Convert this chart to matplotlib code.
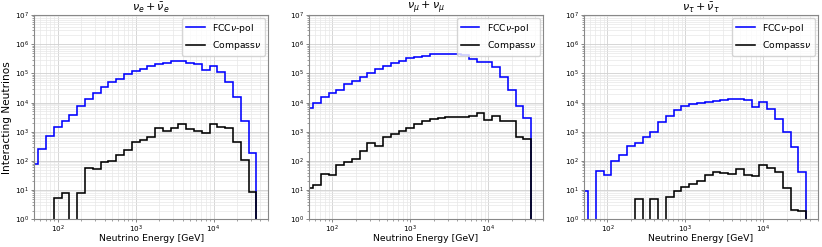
import numpy as np
import matplotlib
matplotlib.use("Agg")
import matplotlib.pyplot as plt

# energy bins, 10 per decade (GeV)
bin_edges = np.logspace(1.65, 4.55, 30)

# interacting neutrinos per bin
fcc_e = [80, 250, 720, 1500, 2300, 3900, 7800, 13000, 22000, 34000,
         50000, 66000, 92000, 125000, 145000, 175000, 210000, 235000, 265000, 265000,
         235000, 210000, 135000, 185000, 110000, 50000, 15500, 2300, 185]
compass_e = [0, 0, 0, 5.2, 8.2, 0, 8.0, 57, 55, 95,
             96, 165, 240, 440, 520, 680, 1300, 1060, 1400, 1900,
             1220, 1100, 920, 1800, 1450, 1300, 440, 105, 8.4]

fcc_mu = [6500, 10000, 15000, 22000, 28000, 43000, 56000, 77000, 105000, 137000,
          180000, 220000, 270000, 325000, 370000, 400000, 450000, 470000, 480000, 460000,
          420000, 310000, 250000, 250000, 170000, 75000, 28000, 7600, 3000]
compass_mu = [11.5, 15, 37, 32, 72, 92, 113, 222, 400, 330,
              645, 830, 1090, 1300, 1800, 2400, 2650, 2900, 3300, 3300,
              3100, 3450, 4300, 2500, 3450, 2300, 2300, 650, 580]

fcc_tau = [9, 0, 46, 34, 100, 160, 325, 400, 675, 1000,
           2200, 3500, 5500, 7500, 9000, 10000, 10500, 11000, 12200, 12900,
           13500, 12200, 7200, 10100, 5900, 2700, 960, 310, 41]
compass_tau = [0, 0, 0, 0, 0, 0, 0, 5, 0, 5,
               0, 5.8, 9.5, 13, 16, 20.5, 33, 43, 38, 36,
               53, 33, 31, 73, 56, 43, 11.5, 2.1, 2.0]

titles = [r'$\nu_e + \bar{\nu}_e$', r'$\nu_\mu + \bar{\nu}_\mu$', r'$\nu_\tau + \bar{\nu}_\tau$']
fcc_all = [fcc_e, fcc_mu, fcc_tau]
compass_all = [compass_e, compass_mu, compass_tau]

fig = plt.figure(figsize=(8.22, 2.47), dpi=100)
lefts = [0.0417, 0.3759, 0.7105]

for i in range(3):
    ax = fig.add_axes([lefts[i], 0.112, 0.2843, 0.827])
    ax.stairs(fcc_all[i], bin_edges, color='blue', lw=1.15, label=r'FCC$\nu$-pol')
    ax.stairs(compass_all[i], bin_edges, color='black', lw=1.15, label=r'Compass$\nu$')
    ax.set_xscale('log')
    ax.set_yscale('log')
    ax.set_xlim(50, 5e4)
    ax.set_ylim(1, 1e7)
    ax.grid(True, which='major', color='#d0d0d0', lw=0.6)
    ax.grid(True, which='minor', color='#e8e8e8', lw=0.5)
    ax.set_axisbelow(True)
    ax.tick_params(which='major', labelsize=5.2, length=2.5, width=0.5, pad=1, color='#555555')
    ax.tick_params(which='minor', length=1.5, width=0.4, color='#555555')
    for s in ax.spines.values():
        s.set_color('#888888')
        s.set_linewidth(0.8)
    ax.set_title(titles[i], fontsize=8, pad=3)
    ax.set_xlabel('Neutrino Energy [GeV]', fontsize=6.7, labelpad=-1)
    ax.legend(loc='upper right', fontsize=6.7, borderaxespad=0.3, framealpha=0.8)
    if i == 0:
        ax.set_ylabel('Interacting Neutrinos', fontsize=7.6, labelpad=2)

fig.savefig('out.png', dpi=100)
